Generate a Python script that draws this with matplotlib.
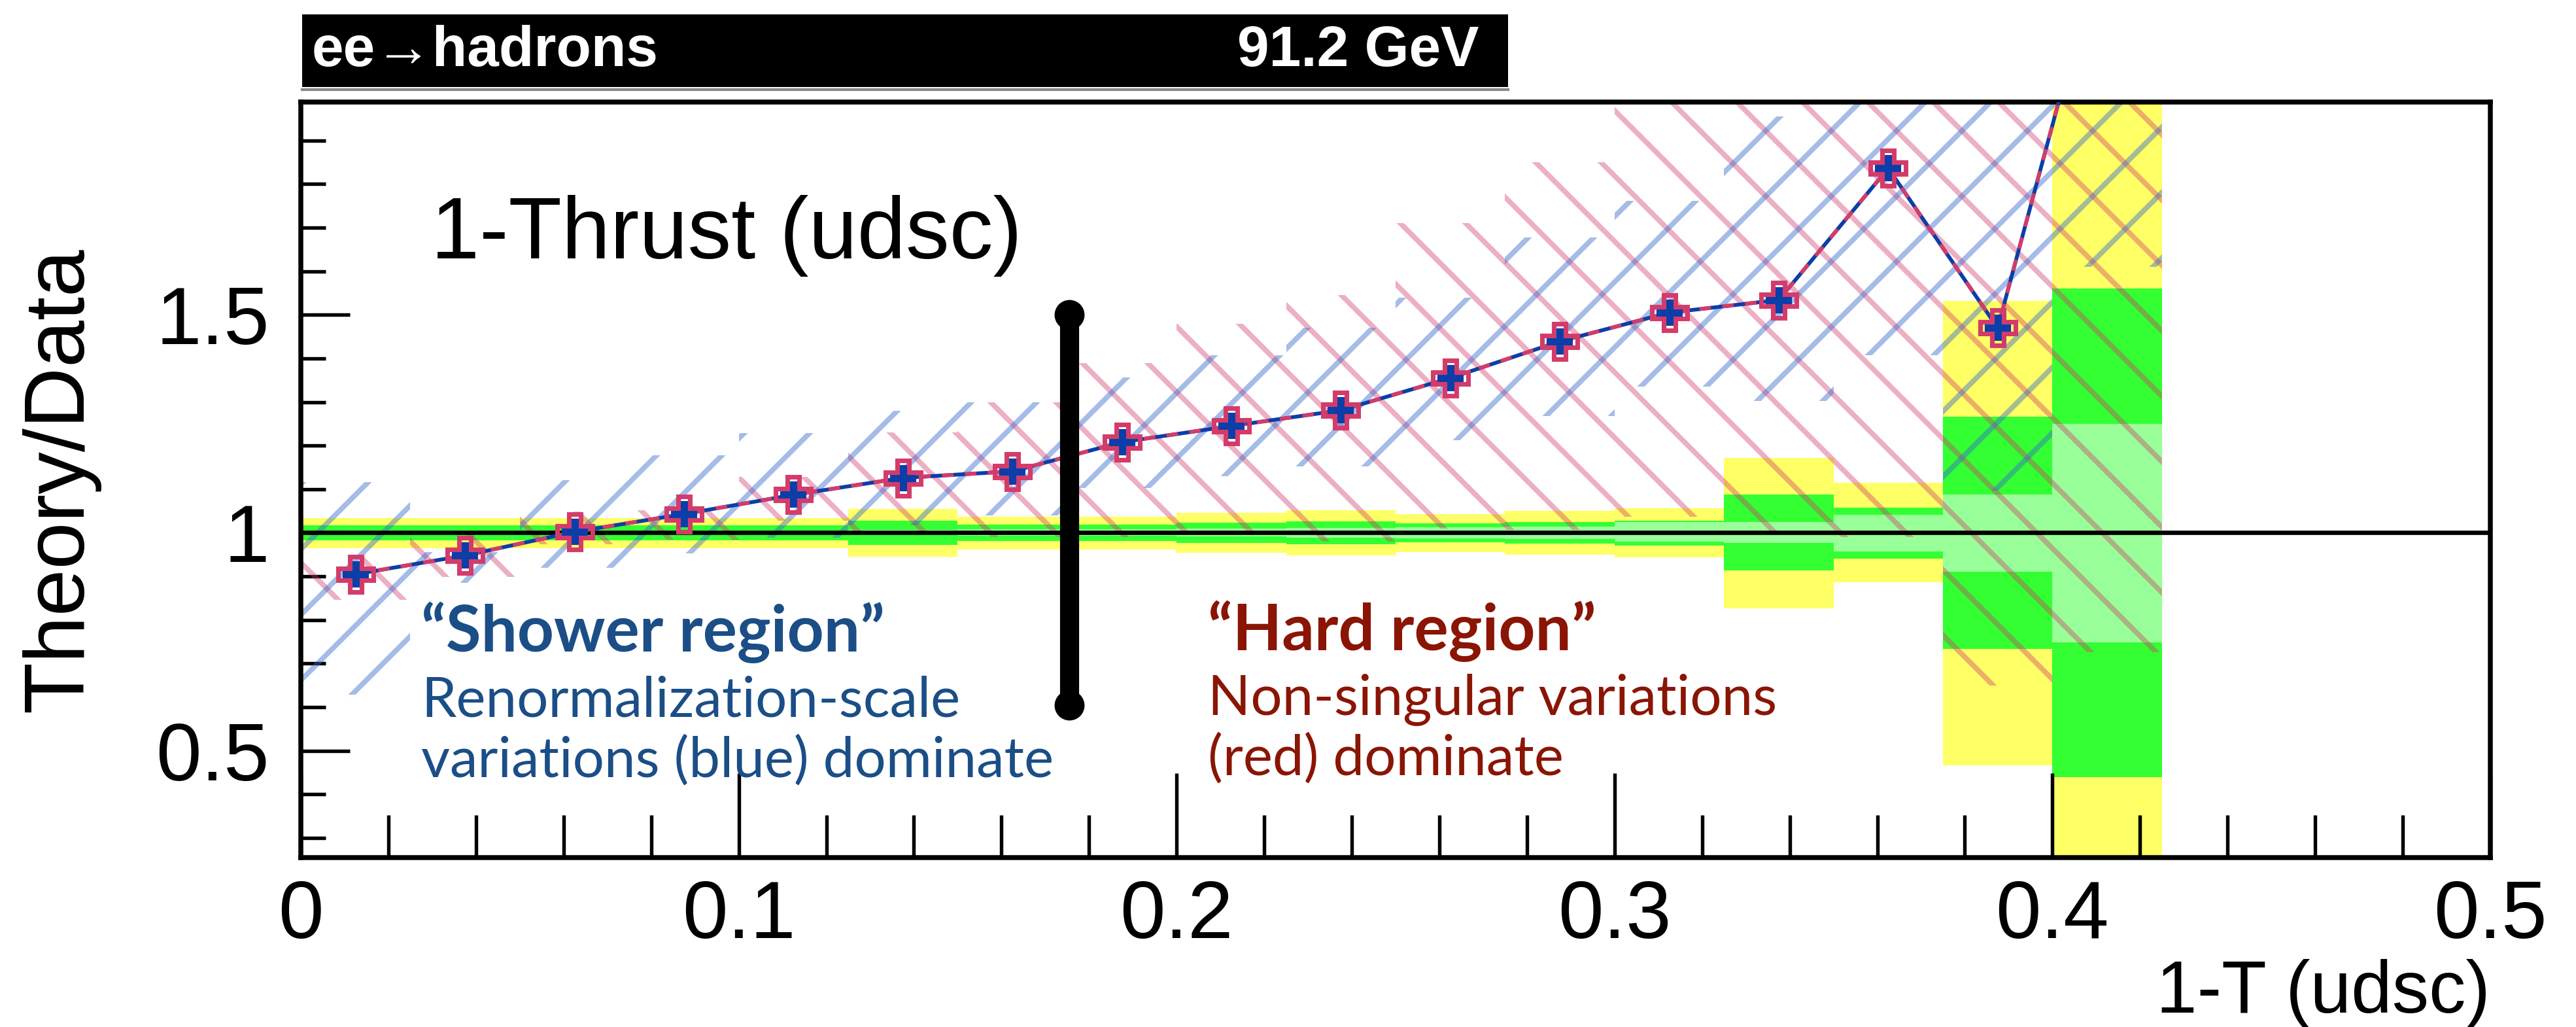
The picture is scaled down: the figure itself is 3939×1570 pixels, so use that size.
import numpy as np
import matplotlib
matplotlib.use("Agg")
import matplotlib.pyplot as plt
from matplotlib.patches import Rectangle
from matplotlib.lines import Line2D
from matplotlib.ticker import MultipleLocator, FixedLocator

# ---- data (17 bins of width 0.025 in 1-T) ----
bin_lo = [0.000, 0.025, 0.050, 0.075, 0.100, 0.125, 0.150, 0.175, 0.200,
          0.225, 0.250, 0.275, 0.300, 0.325, 0.350, 0.375, 0.400]
bin_width = 0.025
bin_mid = [0.0125, 0.0375, 0.0625, 0.0875, 0.1125, 0.1375, 0.1625, 0.1875, 0.2125,
           0.2375, 0.2625, 0.2875, 0.3125, 0.3375, 0.3625, 0.3875, 0.4125]

ratio = [0.905, 0.948, 1.002, 1.043, 1.087, 1.126, 1.141, 1.208, 1.245,
         1.281, 1.355, 1.439, 1.505, 1.534, 1.836, 1.470, 2.40]

# data uncertainty bands (yellow / green / light green)
yellow_hi = [1.034, 1.034, 1.034, 1.034, 1.034, 1.054, 1.037, 1.036, 1.046,
             1.052, 1.043, 1.050, 1.056, 1.172, 1.114, 1.532, 2.30]
yellow_lo = [0.965, 0.965, 0.965, 0.965, 0.965, 0.945, 0.962, 0.962, 0.954,
             0.948, 0.956, 0.950, 0.944, 0.827, 0.886, 0.467, 0.10]
green_hi = [1.0175, 1.0175, 1.0175, 1.0175, 1.0175, 1.0275, 1.019, 1.019, 1.023,
            1.0265, 1.0215, 1.0245, 1.0275, 1.087, 1.057, 1.266, 1.56]
green_lo = [0.9825, 0.9825, 0.9825, 0.9825, 0.9825, 0.972, 0.981, 0.981, 0.976,
            0.9735, 0.978, 0.9745, 0.971, 0.913, 0.941, 0.733, 0.44]
lgreen_hi = [1.004, 1.004, 1.004, 1.004, 1.004, 1.006, 1.008, 1.008, 1.009,
             1.0115, 1.0125, 1.014, 1.024, 1.024, 1.0405, 1.087, 1.25]
lgreen_lo = [0.996, 0.996, 0.996, 0.996, 0.996, 0.994, 0.993, 0.993, 0.991,
             0.989, 0.987, 0.985, 0.979, 0.976, 0.957, 0.910, 0.749]

# renormalization-scale variations (blue hatch)
scale_hi = [1.116, 0.955, 1.120, 1.178, 1.229, 1.280, 1.300, 1.357, 1.407,
            1.470, 1.540, 1.678, 1.761, 1.955, 2.20, 2.20, 2.20]
scale_lo = [0.628, 0.885, 0.920, 0.953, 0.988, 1.017, 1.040, 1.103, 1.130,
            1.152, 1.213, 1.268, 1.335, 1.302, 1.407, 1.097, 1.610]

# non-singular variations (red hatch)
nons_hi = [0.947, 1.000, 1.049, 1.052, 1.128, 1.230, 1.300, 1.390, 1.479,
           1.545, 1.711, 1.850, 2.20, 2.20, 2.20, 2.20, 2.20]
nons_lo = [0.846, 0.899, 0.974, 0.984, 1.027, 1.000, 0.990, 0.990, 1.000,
           0.979, 1.009, 1.006, 1.036, 0.994, 0.990, 0.649, 0.726]

y_ticks = [0.5, 1.0, 1.5]
y_ticklabels = ["0.5", "1", "1.5"]
x_ticks = [0, 0.1, 0.2, 0.3, 0.4, 0.5]
x_ticklabels = ["0", "0.1", "0.2", "0.3", "0.4", "0.5"]

divider_x = 0.1755
divider_y = (0.605, 1.50)

# ---- colours ----
YELLOW = "#ffff66"
GREEN = "#33ff33"
LGREEN = "#99ff99"
BLUE_HATCH = (0.22, 0.42, 0.80, 0.45)
RED_HATCH = (0.82, 0.22, 0.42, 0.40)
BLUE = "#0b3ea8"
RED = "#d33c6a"
TXT_BLUE = "#1b4e86"
TXT_RED = "#8a1505"

plt.rcParams["hatch.linewidth"] = 1.9
plt.rcParams["font.family"] = ["Liberation Sans", "DejaVu Sans"]

fig = plt.figure(figsize=(3939 / 300, 1570 / 300), dpi=300)
ax = fig.add_axes([460 / 3939, 1 - 1311 / 1570, 3348 / 3939, 1155 / 1570])

lo = np.array(bin_lo)

# bands
ax.bar(lo, np.array(yellow_hi) - yellow_lo, bottom=yellow_lo, width=bin_width,
       align="edge", color=YELLOW, linewidth=0, zorder=1)
ax.bar(lo, np.array(green_hi) - green_lo, bottom=green_lo, width=bin_width,
       align="edge", color=GREEN, linewidth=0, zorder=1.1)
ax.bar(lo, np.array(lgreen_hi) - lgreen_lo, bottom=lgreen_lo, width=bin_width,
       align="edge", color=LGREEN, linewidth=0, zorder=1.2)

# hatched variation envelopes
ax.bar(lo, np.array(nons_hi) - nons_lo, bottom=nons_lo, width=bin_width,
       align="edge", facecolor="none", edgecolor=RED_HATCH, hatch="\\",
       linewidth=0, zorder=2)
ax.bar(lo, np.array(scale_hi) - scale_lo, bottom=scale_lo, width=bin_width,
       align="edge", facecolor="none", edgecolor=BLUE_HATCH, hatch="/",
       linewidth=0, zorder=2.1)

ax.axhline(1.0, color="black", lw=1.6, zorder=3)

# theory / data curve
ax.plot(bin_mid, ratio, color=BLUE, lw=1.4, zorder=4)
ax.plot(bin_mid, ratio, color=RED, lw=1.4, dashes=(3, 3), zorder=4.1)
ax.plot(bin_mid, ratio, ls="none", marker="P", ms=8.5, color=BLUE, zorder=5)
ax.plot(bin_mid, ratio, ls="none", marker="P", ms=13, mfc="none", mec=RED,
        mew=1.7, zorder=5.1)

# hand-drawn divider
ax.plot([divider_x, divider_x], divider_y, color="black", lw=7,
        solid_capstyle="round", zorder=6)
ax.plot([divider_x, divider_x], divider_y, ls="none", marker="o", ms=10,
        color="black", zorder=6)

ax.set_xlim(0, 0.5)
ax.set_ylim(0.255, 1.988)

ax.xaxis.set_major_locator(FixedLocator(x_ticks))
ax.set_xticklabels(x_ticklabels)
ax.xaxis.set_minor_locator(MultipleLocator(0.02))
ax.yaxis.set_major_locator(FixedLocator(y_ticks))
ax.set_yticklabels(y_ticklabels)
ax.yaxis.set_minor_locator(MultipleLocator(0.1))

ax.tick_params(axis="x", which="major", direction="in", length=31, width=1.3,
               labelsize=30, pad=8, top=False)
ax.tick_params(axis="x", which="minor", direction="in", length=15.5, width=1.3, top=False)
ax.tick_params(axis="y", which="major", direction="in", length=18, width=1.3,
               labelsize=30, pad=11.5, right=False)
ax.tick_params(axis="y", which="minor", direction="in", length=9, width=1.3, right=False)
for s in ax.spines.values():
    s.set_linewidth(1.8)

# labels
fig.text(93 / 3939, 0.5328, "Theory/Data", rotation=90, ha="center", va="center",
         fontsize=31)
fig.text(3808 / 3939, 1 - 1548 / 1570, "1-T (udsc)", ha="right", va="baseline",
         fontsize=27)

ax.text(0.0297, 1.629, "1-Thrust (udsc)", fontsize=32, va="baseline", zorder=7)

ann_font = ["Lato", "DejaVu Sans"]
ax.text(0.0275, 0.727, "\u201cShower region\u201d", color=TXT_BLUE, fontsize=23.5,
        fontweight="bold", family=ann_font, va="baseline", zorder=7)
ax.text(0.0275, 0.578, "Renormalization-scale", color=TXT_BLUE, fontsize=20.5,
        family=ann_font, va="baseline", zorder=7)
ax.text(0.0275, 0.441, "variations (blue) dominate", color=TXT_BLUE, fontsize=20.5,
        family=ann_font, va="baseline", zorder=7)
ax.text(0.2071, 0.730, "\u201cHard region\u201d", color=TXT_RED, fontsize=23.5,
        fontweight="bold", family=ann_font, va="baseline", zorder=7)
ax.text(0.2071, 0.583, "Non-singular variations", color=TXT_RED, fontsize=20.5,
        family=ann_font, va="baseline", zorder=7)
ax.text(0.2071, 0.445, "(red) dominate", color=TXT_RED, fontsize=20.5,
        family=ann_font, va="baseline", zorder=7)

# black header banner
fig.add_artist(Rectangle((462 / 3939, 1 - 133 / 1570), 1844 / 3939, 111 / 1570,
                         transform=fig.transFigure, facecolor="black",
                         edgecolor="none"))
fig.add_artist(Line2D([462 / 3939, 2306 / 3939], [1 - 137 / 1570, 1 - 137 / 1570],
                      transform=fig.transFigure, color="#888888", lw=1))
fig.text(477 / 3939, 1 - 78 / 1570, "ee\u2192hadrons", color="white", fontsize=21,
         fontweight="bold", va="center", ha="left")
fig.text(2261 / 3939, 1 - 78 / 1570, "91.2 GeV", color="white", fontsize=21,
         fontweight="bold", va="center", ha="right")

fig.savefig("out.png", dpi=300)
